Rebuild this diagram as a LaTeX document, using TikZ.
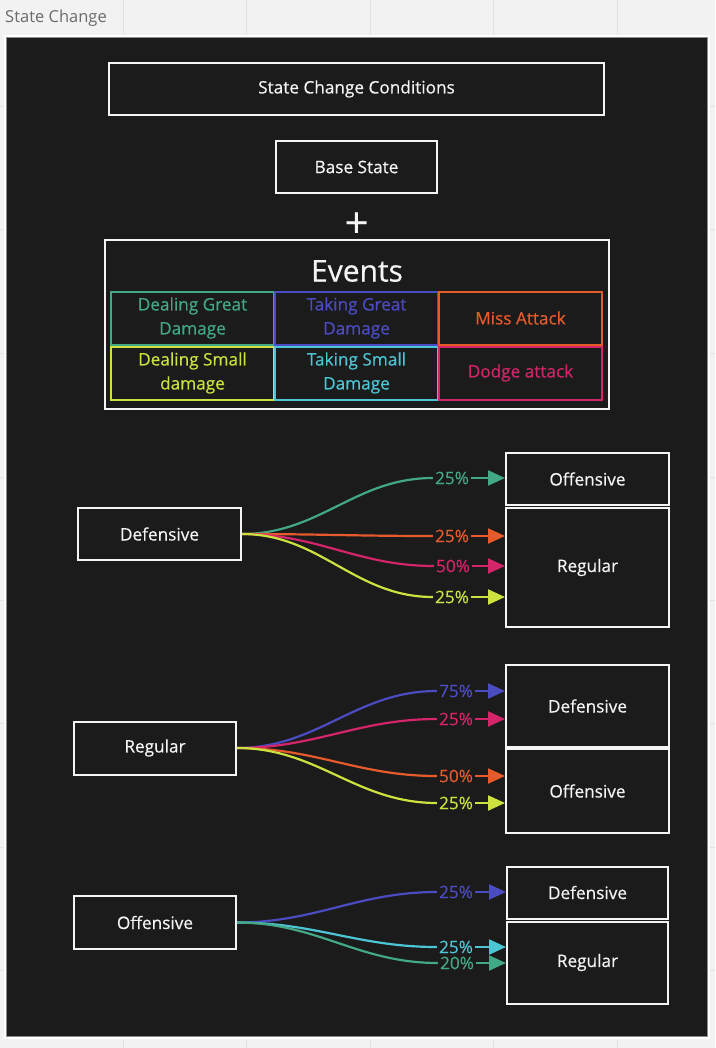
\documentclass[tikz,border=0pt]{standalone}
\usepackage{fontspec}
\setmainfont{Open Sans}
\newfontfamily\medfont{Open Sans}[FakeBold=0.45]
\usetikzlibrary{arrows.meta}
\definecolor{bgpage}{HTML}{F2F2F2}
\definecolor{gridc}{HTML}{E2E2E2}
\definecolor{framec}{HTML}{1B1B1B}
\definecolor{boxw}{HTML}{F4F4F4}
\definecolor{cteal}{HTML}{42A886}
\definecolor{cblue}{HTML}{4B4BC2}
\definecolor{corange}{HTML}{E65A2C}
\definecolor{ccrim}{HTML}{D4246A}
\definecolor{cyel}{HTML}{CDE23E}
\definecolor{ccyan}{HTML}{4CC6D4}
\tikzset{
  wbox/.style={draw=boxw, line width=2pt, fill=framec, text=boxw, inner sep=0pt,
    font=\medfont\fontsize{17.2}{20}\selectfont},
  cell/.style={draw=#1, text=#1, line width=2pt, minimum width=163pt, minimum height=53pt,
    inner sep=0pt, align=center, font=\medfont\fontsize{17.2}{24}\selectfont},
  pct/.style={text=#1, inner sep=2pt, font=\medfont\fontsize{17.2}{20}\selectfont},
  flow/.style={draw=#1, line width=2.2pt},
  arr/.style={draw=#1, fill=#1, line width=2.2pt, -{Triangle[length=17pt,width=15pt]}},
}
\begin{document}
\begin{tikzpicture}[x=1pt,y=-1pt]
\useasboundingbox (0,0) rectangle (715,1048);
\fill[bgpage] (0,0) rectangle (715,1048);
\foreach \gx in {123,246,370,493,617} \draw[gridc, line width=1pt] (\gx,0) -- (\gx,1048);
\foreach \gy in {107,230,353,477,600,723,847,970} \draw[gridc, line width=1pt] (0,\gy) -- (715,\gy);
\node[anchor=base west, text=black!58, inner sep=0pt, font=\fontsize{16.5}{18}\selectfont] (ttl) at (5,23) {State Change};
\draw[white, line width=1.5pt] (5,36) rectangle (709,1038);
\draw[fill=framec, draw=black!45, line width=0.8pt] (6.5,37.5) rectangle (707.5,1036.5);

% header
\node[wbox, minimum width=495pt, minimum height=52pt] (scc) at (356.5,89) {State Change Conditions};
\node[wbox, minimum width=161pt, minimum height=52pt] (base) at (356.5,167) {Base State};
\node[text=boxw, inner sep=0pt, font=\medfont\fontsize{42}{42}\selectfont] (plus) at (356.5,225) {+};
\node[wbox, minimum width=504pt, minimum height=169pt] (events) at (357,324.5) {};
\node[text=boxw, inner sep=0pt, font=\medfont\fontsize{30}{32}\selectfont] (evt) at (357,271) {Events};
\node[cell=cteal] (c11) at (192.5,318) {Dealing Great\\Damage};
\node[cell=cblue] (c12) at (356.5,318) {Taking Great\\Damage};
\node[cell=corange] (c13) at (520.5,318) {Miss Attack};
\node[cell=cyel] (c21) at (192.5,373) {Dealing Small\\damage};
\node[cell=ccyan] (c22) at (356.5,373) {Taking Small\\Damage};
\node[cell=ccrim] (c23) at (520.5,373) {Dodge attack};

% section 1
\node[wbox, minimum width=163pt, minimum height=52pt] (def1) at (159.5,534) {Defensive};
\node[wbox, minimum width=163pt, minimum height=52pt] (off1t) at (587.5,479) {Offensive};
\node[wbox, minimum width=163pt, minimum height=119pt] (reg1t) at (587.5,567.5) {Regular};
\node[pct=cteal] (p11) at (452,478) {25\%};
\node[pct=corange] (p12) at (452,536) {25\%};
\node[pct=ccrim] (p13) at (453,566) {50\%};
\node[pct=cyel] (p14) at (452,597) {25\%};
\foreach \p/\c/\t in {p11/cteal/off1t, p12/corange/reg1t, p13/ccrim/reg1t, p14/cyel/reg1t}{
  \draw[flow=\c] (def1.east) to[out=0,in=180] (\p.west);
  \draw[arr=\c] (\p.east) -- (\t.west |- \p);
}

% section 2
\node[wbox, minimum width=162pt, minimum height=53pt] (reg2) at (155,748) {Regular};
\node[wbox, minimum width=163pt, minimum height=82pt] (def2t) at (587.5,706) {Defensive};
\node[wbox, minimum width=163pt, minimum height=84pt] (off2t) at (587.5,791) {Offensive};
\node[pct=cblue] (p21) at (456,691) {75\%};
\node[pct=ccrim] (p22) at (456,719) {25\%};
\node[pct=corange] (p23) at (456,776) {50\%};
\node[pct=cyel] (p24) at (456,803) {25\%};
\foreach \p/\c/\t in {p21/cblue/def2t, p22/ccrim/def2t, p23/corange/off2t, p24/cyel/off2t}{
  \draw[flow=\c] (reg2.east) to[out=0,in=180] (\p.west);
  \draw[arr=\c] (\p.east) -- (\t.west |- \p);
}

% section 3
\node[wbox, minimum width=162pt, minimum height=53pt] (off3) at (155,922.5) {Offensive};
\node[wbox, minimum width=161pt, minimum height=52pt] (def3t) at (587.5,892.5) {Defensive};
\node[wbox, minimum width=161pt, minimum height=82pt] (reg3t) at (587.5,962.5) {Regular};
\node[pct=cblue] (p31) at (456,892) {25\%};
\node[pct=ccyan] (p32) at (456,947) {25\%};
\node[pct=cteal] (p33) at (457,963) {20\%};
\foreach \p/\c/\t in {p31/cblue/def3t, p32/ccyan/reg3t, p33/cteal/reg3t}{
  \draw[flow=\c] (off3.east) to[out=0,in=180] (\p.west);
  \draw[arr=\c] (\p.east) -- (\t.west |- \p);
}
\end{tikzpicture}
\end{document}
